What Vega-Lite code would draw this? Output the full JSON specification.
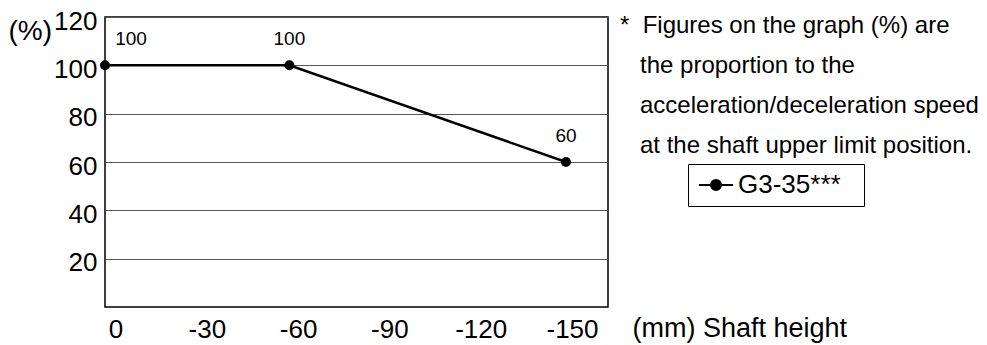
{
  "$schema": "https://vega.github.io/schema/vega-lite/v6.json",
  "autosize": {"type": "none"},
  "width": 503,
  "height": 290,
  "padding": {"left": 105, "top": 17, "right": 379, "bottom": 38},
  "background": "white",
  "config": {
    "font": "Liberation Sans",
    "view": {"stroke": "black", "strokeWidth": 1.5},
    "axis": {"labelColor": "black", "titleColor": "black", "labelFont": "Liberation Sans", "titleFont": "Liberation Sans"},
    "legend": {"labelFont": "Liberation Sans", "labelColor": "black"}
  },
  "title": {
    "text": [
      "*\u00a0\u00a0Figures on the graph (%) are",
      "\u200b\u00a0\u00a0\u00a0the proportion to the",
      "\u200b\u00a0\u00a0\u00a0acceleration/deceleration speed",
      "\u200b\u00a0\u00a0\u00a0at the shaft upper limit position."
    ],
    "anchor": "start",
    "frame": "group",
    "orient": "top",
    "dx": 515,
    "dy": 150,
    "offset": 0,
    "baseline": "top",
    "fontSize": 24,
    "fontWeight": "normal",
    "font": "Liberation Sans",
    "lineHeight": 40,
    "color": "black"
  },
  "data": {
    "values": [
      {"height": 0, "pct": 100, "series": "G3-35***"},
      {"height": -60, "pct": 100, "series": "G3-35***"},
      {"height": -150, "pct": 60, "series": "G3-35***"}
    ]
  },
  "resolve": {"scale": {"x": "independent"}, "axis": {"x": "independent"}},
  "layer": [
    {
      "mark": {"type": "point", "opacity": 0},
      "encoding": {
        "x": {
          "field": "height",
          "type": "quantitative",
          "scale": {"domain": [3.45, -161.83], "nice": false, "zero": false},
          "axis": {
            "values": [0, -30, -60, -90, -120, -150],
            "labelExpr": "toString(datum.value)",
            "ticks": false,
            "domain": false,
            "grid": false,
            "labelFontSize": 26,
            "labelPadding": 9,
            "labelFlush": false,
            "labelOverlap": false,
            "title": "(mm) Shaft height",
            "titleFontSize": 27,
            "titleFontWeight": "normal",
            "titleAlign": "left",
            "titleBaseline": "middle",
            "titleX": 527,
            "titleY": 21
          }
        },
        "y": {
          "field": "pct",
          "type": "quantitative",
          "scale": {"domain": [0, 120], "nice": false},
          "axis": {
            "values": [20, 40, 60, 80, 100, 120],
            "ticks": false,
            "domain": false,
            "grid": true,
            "gridColor": "#555555",
            "gridWidth": 1,
            "gridOpacity": 1,
            "labelFontSize": 26,
            "labelPadding": 8,
            "labelOffset": 4,
            "title": "(%)",
            "titleAngle": 0,
            "titleFontSize": 28,
            "titleFontWeight": "normal",
            "titleAlign": "left",
            "titleBaseline": "middle",
            "titleX": -97,
            "titleY": 14
          }
        }
      }
    },
    {
      "layer": [
        {
          "mark": {"type": "line", "strokeWidth": 2.5},
          "encoding": {
            "color": {
              "field": "series",
              "type": "nominal",
              "scale": {"range": ["black"]},
              "legend": {
                "orient": "none",
                "legendX": 583,
                "legendY": 147,
                "title": null,
                "strokeColor": "black",
                "padding": 8,
                "labelFontSize": 26,
                "labelOffset": 16,
                "labelExpr": "datum.label + '\u00a0\u00a0\u200b'",
                "symbolType": "M-1,0L2.4,0M0.2,0A0.5,0.5 0 1,1 1.2,0A0.5,0.5 0 1,1 0.2,0Z",
                "symbolSize": 400,
                "symbolStrokeWidth": 2,
                "symbolFillColor": "black",
                "symbolStrokeColor": "black"
              }
            }
          }
        },
        {
          "mark": {"type": "point", "filled": true, "size": 100, "opacity": 1, "color": "black"},
          "encoding": {}
        },
        {
          "transform": [{"filter": "datum.height != 0"}],
          "mark": {"type": "text", "dy": -26, "fontSize": 19, "color": "black", "baseline": "middle"},
          "encoding": {"text": {"field": "pct", "type": "quantitative"}}
        },
        {
          "transform": [{"filter": "datum.height == 0"}],
          "mark": {"type": "text", "dy": -26, "dx": 26, "fontSize": 19, "color": "black", "baseline": "middle"},
          "encoding": {"text": {"field": "pct", "type": "quantitative"}}
        }
      ],
      "encoding": {
        "x": {
          "field": "height",
          "type": "quantitative",
          "scale": {"domain": [0, -163.67], "nice": false, "zero": false},
          "axis": null
        },
        "y": {"field": "pct", "type": "quantitative"}
      }
    }
  ]
}
